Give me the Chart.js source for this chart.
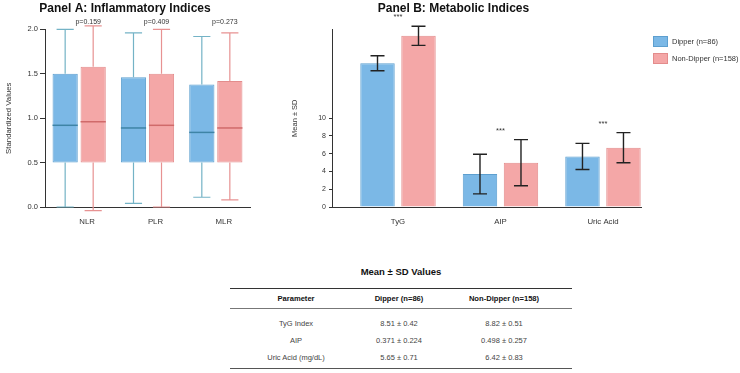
<!DOCTYPE html>
<html><head><meta charset="utf-8">
<script src="https://cdn.jsdelivr.net/npm/chart.js@4.4.0/dist/chart.umd.min.js"></script>
<style>
html,body{margin:0;padding:0;background:#fff;}
body{width:740px;height:373px;position:relative;overflow:hidden;font-family:"Liberation Sans",Arial,Helvetica,sans-serif;}
#ca{position:absolute;left:0;top:0;}
#cb{position:absolute;left:266px;top:0;}
.sw{position:absolute;left:653px;width:13px;height:9px;border:1px solid;}
.lt{position:absolute;left:672px;font-size:7.5px;line-height:11px;color:#333;white-space:nowrap;}
#ttitle{position:absolute;left:230px;top:266px;width:342px;text-align:center;font-size:9.5px;line-height:12px;font-weight:bold;color:#111;}
#tbl{position:absolute;left:230px;top:288px;width:342px;border-collapse:collapse;table-layout:fixed;font-size:7.5px;color:#444;}
#tbl th{height:19px;padding:0;font-weight:bold;font-size:7.6px;color:#111;border-top:1.5px solid #333;border-bottom:1px solid #777;text-align:center;vertical-align:middle;}
#tbl td{height:17px;padding:0;text-align:center;vertical-align:middle;}
#tbl tbody tr:first-child td{padding-top:6px;}
#tbl tbody tr:last-child td{padding-bottom:2px;border-bottom:1.5px solid #555;}
</style>
</head><body>
<canvas id="ca" width="254" height="232"></canvas>
<canvas id="cb" width="474" height="232"></canvas>
<div id="legend"></div>
<div id="ttitle"></div>
<table id="tbl"><colgroup><col style="width:132px"><col style="width:74px"><col style="width:136px"></colgroup><thead><tr id="thead"></tr></thead><tbody id="tbody"></tbody></table>
<script>
// ---------- Panel A data (box plots) ----------
const boxCategories = ['NLR', 'PLR', 'MLR'];
const pValues = ['p=0.159', 'p=0.409', 'p=0.273'];
const dipperMin    = [0.00, 0.04, 0.11];
const dipperQ1     = [0.50, 0.50, 0.50];
const dipperMedian = [0.92, 0.89, 0.84];
const dipperQ3     = [1.50, 1.46, 1.38];
const dipperMax    = [2.00, 1.96, 1.92];
const nonDipperMin    = [-0.04, 0.00, 0.08];
const nonDipperQ1     = [0.50, 0.50, 0.50];
const nonDipperMedian = [0.96, 0.92, 0.89];
const nonDipperQ3     = [1.58, 1.50, 1.42];
const nonDipperMax    = [2.04, 2.00, 1.96];
const boxYTicks = [0, 0.5, 1, 1.5, 2];

// ---------- Panel B data (means ± SD) ----------
const barCategories = ['TyG', 'AIP', 'Uric Acid'];
const dipperMean    = [16.19, 3.71, 5.69];
const dipperSD      = [0.84, 2.23, 1.47];
const nonDipperMean = [19.28, 4.99, 6.68];
const nonDipperSD   = [1.08, 2.60, 1.70];
const significance  = ['***', '***', '***'];
const barYTicks = [0, 2, 4, 6, 8, 10];

// ---------- Legend / table ----------
const legendLabels = ['Dipper (n=86)', 'Non-Dipper (n=158)'];
const tableTitle = 'Mean ± SD Values';
const tableHeader = ['Parameter', 'Dipper (n=86)', 'Non-Dipper (n=158)'];
const tableParams = ['TyG Index', 'AIP', 'Uric Acid (mg/dL)'];
const tableDipper = ['8.51 ± 0.42', '0.371 ± 0.224', '5.65 ± 0.71'];
const tableNonDipper = ['8.82 ± 0.51', '0.498 ± 0.257', '6.42 ± 0.83'];

// ---------- styles ----------
const FONT = '"Liberation Sans", Arial, Helvetica, sans-serif';
const BLUE = {fill: '#7bb8e6', border: '#5d9fcf', whisker: '#74b3c6', median: '#3e84a6'};
const PINK = {fill: '#f4a7a7', border: '#e38c8c', whisker: '#e79292', median: '#d06a6a'};
const AXIS = '#333';
Chart.defaults.font.family = FONT;
Chart.defaults.devicePixelRatio = 1;

// ---------- Panel A ----------
const boxPlugin = {
  id: 'boxWhiskers',
  afterDatasetsDraw(chart) {
    const ctx = chart.ctx, ys = chart.scales.y, xs = chart.scales.x;
    chart.data.datasets.forEach((ds, d) => {
      const meta = chart.getDatasetMeta(d);
      meta.data.forEach((el, i) => {
        const x = el.x, w = el.width, cap = w * 0.68;
        const yMin = ys.getPixelForValue(ds.stats.min[i]);
        const yMax = ys.getPixelForValue(ds.stats.max[i]);
        const yQ1 = ys.getPixelForValue(ds.stats.q1[i]);
        const yQ3 = ys.getPixelForValue(ds.stats.q3[i]);
        const yMed = ys.getPixelForValue(ds.stats.med[i]);
        ctx.save();
        ctx.strokeStyle = ds.whiskerColor; ctx.lineWidth = 1.2;
        ctx.beginPath();
        ctx.moveTo(x, yQ3); ctx.lineTo(x, yMax);
        ctx.moveTo(x, yQ1); ctx.lineTo(x, yMin);
        ctx.moveTo(x - cap / 2, yMax); ctx.lineTo(x + cap / 2, yMax);
        ctx.moveTo(x - cap / 2, yMin); ctx.lineTo(x + cap / 2, yMin);
        ctx.stroke();
        ctx.strokeStyle = ds.medianColor; ctx.lineWidth = 1.5;
        ctx.beginPath();
        ctx.moveTo(x - w / 2, yMed); ctx.lineTo(x + w / 2, yMed);
        ctx.stroke();
        ctx.restore();
      });
    });
    ctx.save();
    ctx.font = '7px ' + FONT; ctx.fillStyle = '#333';
    ctx.textAlign = 'center'; ctx.textBaseline = 'middle';
    pValues.forEach((p, i) => {
      ctx.fillText(p, xs.getPixelForValue(i) + 9, chart.chartArea.top - 7);
    });
    ctx.restore();
  }
};

function boxDataset(label, c, q1, q3, mn, med, mx) {
  return {
    label, data: q1.map((v, i) => [v, q3[i]]),
    backgroundColor: c.fill, borderColor: c.border, borderWidth: 1, borderSkipped: false,
    whiskerColor: c.whisker, medianColor: c.median,
    stats: {q1, q3, min: mn, med, max: mx},
    categoryPercentage: 0.82, barPercentage: 0.9
  };
}

new Chart(document.getElementById('ca'), {
  type: 'bar',
  data: {
    labels: boxCategories,
    datasets: [
      boxDataset(legendLabels[0], BLUE, dipperQ1, dipperQ3, dipperMin, dipperMedian, dipperMax),
      boxDataset(legendLabels[1], PINK, nonDipperQ1, nonDipperQ3, nonDipperMin, nonDipperMedian, nonDipperMax)
    ]
  },
  options: {
    responsive: false, animation: false,
    layout: {padding: {left: 0, right: 4, top: 0, bottom: 0}},
    plugins: {
      legend: {display: false}, tooltip: {enabled: false},
      title: {display: true, text: 'Panel A: Inflammatory Indices', color: '#111',
        font: {size: 12, weight: 'bold'}, padding: {top: 1, bottom: 14}}
    },
    scales: {
      x: {
        grid: {display: false, drawTicks: false},
        border: {display: true, color: AXIS, width: 1},
        ticks: {font: {size: 7.8}, color: '#333', padding: 10, labelOffset: 8},
        afterFit: s => { s.height = 25; }
      },
      y: {
        min: 0, max: 2,
        afterBuildTicks: s => { s.ticks = boxYTicks.map(v => ({value: v})); },
        ticks: {callback: v => Number(v).toFixed(1), font: {size: 7.5}, color: '#333', padding: 2},
        grid: {drawOnChartArea: false, tickLength: 5, color: AXIS},
        border: {color: AXIS, width: 1},
        title: {display: true, text: 'Standardized Values', color: '#333', font: {size: 7.8}, padding: {top: 4, bottom: 0}},
        afterFit: s => { s.width = 45; }
      }
    }
  },
  plugins: [boxPlugin]
});

// ---------- Panel B ----------
const AXIS_START_B = -0.644;   // axis begins this many category widths before first category
const AXIS_SPAN_B = 3.015;     // axis length in category widths

const errPlugin = {
  id: 'errorBars',
  afterDatasetsDraw(chart) {
    const ctx = chart.ctx, ys = chart.scales.y, xs = chart.scales.x;
    const tops = barCategories.map(() => Infinity);
    ctx.save();
    ctx.strokeStyle = '#222'; ctx.lineWidth = 1.4;
    chart.data.datasets.forEach((ds, d) => {
      const meta = chart.getDatasetMeta(d);
      meta.data.forEach((el, i) => {
        const x = el.x, cap = 14;
        const yHi = ys.getPixelForValue(ds.data[i] + ds.sd[i]);
        const yLo = ys.getPixelForValue(ds.data[i] - ds.sd[i]);
        tops[i] = Math.min(tops[i], yHi);
        ctx.beginPath();
        ctx.moveTo(x, yHi); ctx.lineTo(x, yLo);
        ctx.moveTo(x - cap / 2, yHi); ctx.lineTo(x + cap / 2, yHi);
        ctx.moveTo(x - cap / 2, yLo); ctx.lineTo(x + cap / 2, yLo);
        ctx.stroke();
      });
    });
    ctx.font = '7.5px ' + FONT; ctx.fillStyle = '#333';
    ctx.textAlign = 'center'; ctx.textBaseline = 'middle';
    significance.forEach((s, i) => {
      ctx.fillText(s, xs.getPixelForValue(i), tops[i] - 9);
    });
    ctx.restore();
  }
};

function barDataset(label, c, mean, sd) {
  return {
    label, data: mean, sd,
    backgroundColor: c.fill, borderColor: c.border, borderWidth: 1, borderSkipped: 'bottom',
    categoryPercentage: 0.8, barPercentage: 0.84
  };
}

new Chart(document.getElementById('cb'), {
  type: 'bar',
  data: {
    labels: barCategories,
    datasets: [
      barDataset(legendLabels[0], BLUE, dipperMean, dipperSD),
      barDataset(legendLabels[1], PINK, nonDipperMean, nonDipperSD)
    ]
  },
  options: {
    responsive: false, animation: false,
    layout: {padding: {left: 0, right: 99, top: 0, bottom: 0}},
    plugins: {
      legend: {display: false}, tooltip: {enabled: false},
      title: {display: true, text: 'Panel B: Metabolic Indices', color: '#111',
        font: {size: 12, weight: 'bold'}, padding: {top: 1, bottom: 14}}
    },
    scales: {
      x: {
        grid: {display: false, drawTicks: false},
        border: {display: true, color: AXIS, width: 1},
        ticks: {font: {size: 7.8}, color: '#333', padding: 10},
        afterBuildTicks: s => { s._startValue = AXIS_START_B; s._valueRange = AXIS_SPAN_B; },
        afterFit: s => { s.height = 25; }
      },
      y: {
        min: 0, max: 20,
        afterBuildTicks: s => { s.ticks = barYTicks.map(v => ({value: v})); },
        ticks: {font: {size: 7}, color: '#333', padding: 3},
        grid: {drawOnChartArea: false, tickLength: 3, color: AXIS},
        border: {color: AXIS, width: 1},
        title: {display: true, text: 'Mean ± SD', color: '#333', font: {size: 7.5}, padding: {top: 24.6, bottom: 0}},
        afterFit: s => { s.width = 66; }
      }
    }
  },
  plugins: [errPlugin]
});

// ---------- Legend ----------
const legendColors = [BLUE, PINK];
const legendTops = [36, 53];
const lg = document.getElementById('legend');
legendLabels.forEach((t, i) => {
  const sw = document.createElement('div');
  sw.className = 'sw';
  sw.style.top = legendTops[i] + 'px';
  sw.style.background = legendColors[i].fill;
  sw.style.borderColor = legendColors[i].border;
  lg.appendChild(sw);
  const tx = document.createElement('div');
  tx.className = 'lt';
  tx.style.top = legendTops[i] + 'px';
  tx.textContent = t;
  lg.appendChild(tx);
});

// ---------- Table ----------
document.getElementById('ttitle').textContent = tableTitle;
document.getElementById('thead').innerHTML = tableHeader.map(h => '<th>' + h + '</th>').join('');
document.getElementById('tbody').innerHTML = tableParams.map((p, i) =>
  '<tr><td>' + p + '</td><td>' + tableDipper[i] + '</td><td>' + tableNonDipper[i] + '</td></tr>').join('');
</script>
</body></html>
